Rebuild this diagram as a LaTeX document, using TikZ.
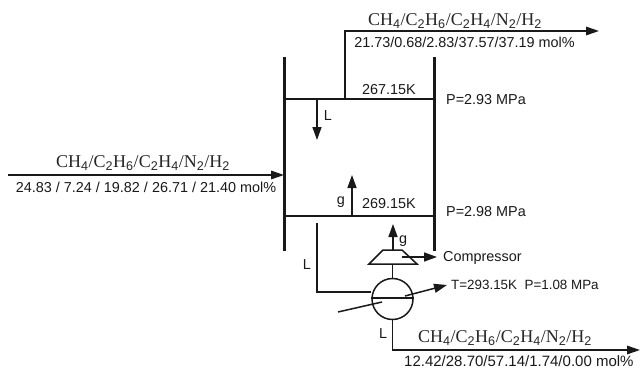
\documentclass[tikz,border=0pt]{standalone}
\usepackage{fontspec}
\setmainfont{Liberation Sans}
\newfontfamily\serifff{Liberation Serif}
\usetikzlibrary{arrows.meta}
\newcommand{\formula}{{\serifff\fontsize{18}{20}\selectfont CH$_{\mathrm{4}}$/C$_{\mathrm{2}}$H$_{\mathrm{6}}$/C$_{\mathrm{2}}$H$_{\mathrm{4}}$/N$_{\mathrm{2}}$/H$_{\mathrm{2}}$}}
\tikzset{
  lbl/.style={inner sep=0pt,font=\fontsize{14.4}{16}\selectfont,text=black!90},
  frm/.style={inner sep=0pt,text=black!85},
  wall/.style={line width=3pt,black!90},
  pipe/.style={line width=1.5pt,black!90},
  flow/.style={pipe,-{Triangle[length=13pt,width=9pt]}},
  flowbig/.style={pipe,-{Triangle[length=13pt,width=8.5pt]}}
}
\begin{document}
\begin{tikzpicture}[x=1pt,y=-1pt]
\useasboundingbox (0,0) rectangle (640,369);
% column
\coordinate (lt) at (284,57); \coordinate (lb) at (284,251);
\coordinate (rt) at (434,57); \coordinate (rb) at (434,251);
\draw[wall] (lt) -- (lb);
\draw[wall] (rt) -- (rb);
\coordinate (t1) at (284,99); \coordinate (t2) at (434,99);
\coordinate (b1) at (284,216); \coordinate (b2) at (434,216);
\draw[pipe] (t1) -- (t2);
\draw[pipe] (b1) -- (b2);
% streams
\coordinate (topo) at (345,99); \coordinate (topc) at (345,31); \coordinate (tope) at (599,31);
\draw[flowbig] (topo) -- (topc) -- (tope);
\coordinate (l1) at (317,99); \coordinate (l2) at (317,140);
\draw[flow] (l1) -- (l2);
\coordinate (g1) at (352,216); \coordinate (g2) at (352,175);
\draw[flow] (g1) -- (g2);
\coordinate (fs) at (8,175); \coordinate (fe) at (284,175);
\draw[flowbig] (fs) -- (fe);
% reboiler
\node[circle,draw=black!90,line width=1.5pt,minimum size=41pt,inner sep=0pt] (reb) at (392.5,299) {};
\draw[pipe] (reb.west |- 0,298) -- (reb.east |- 0,298);
\coordinate (sd) at (317,223);
\coordinate (sc) at (317,292);
\draw[pipe] (sd) -- (sc) -- (sc -| reb.west);
\coordinate (hs) at (338,312); \coordinate (hm) at (382,302);
\coordinate (hn) at (405,296); \coordinate (he) at (447,285);
\draw[pipe] (hs) -- (hm);
\draw[flow] (hn) -- (he);
% compressor
\coordinate (c1) at (369,264); \coordinate (c2) at (417,264);
\coordinate (c3) at (402,250); \coordinate (c4) at (383,250);
\draw[pipe] (c1) -- (c2) -- (c3) -- (c4) -- cycle;
\draw[pipe] (reb.north) -- (reb.north |- c1);
\coordinate (cu) at (393,224); \coordinate (cb) at (393,250);
\draw[flow] (cb) -- (cu);
\coordinate (ca) at (402,257); \coordinate (ce) at (437,257);
\draw[flow] (ca) -- (ce);
% bottom product
\coordinate (bc) at (reb.south |- 0,350); \coordinate (be) at (640,350);
\draw[flowbig] (reb.south) -- (bc) -- (be);
% labels
\node[frm] (ft) at (455,21) {\formula};
\node[lbl] (fn) at (464.5,42) {21.73/0.68/2.83/37.57/37.19 mol\%};
\node[lbl] (t267) at (389,90) {267.15K};
\node[lbl,anchor=west] (p1) at (446,100) {P=2.93 MPa};
\node[lbl] (lL) at (328,116) {L};
\node[frm] (ffe) at (143,163) {\formula};
\node[lbl] (ffn) at (146,187) {24.83 / 7.24 / 19.82 / 26.71 / 21.40 mol\%};
\node[lbl] (gl) at (341,202) {g};
\node[lbl] (t269) at (389,204) {269.15K};
\node[lbl,anchor=west] (p2) at (446,212) {P=2.98 MPa};
\node[lbl] (g3) at (403,241) {g};
\node[lbl,anchor=west] (cmp) at (443,258) {Compressor};
\node[lbl,anchor=west,font=\fontsize{13.4}{15}\selectfont] (tp) at (451,285) {T=293.15K\ \ P=1.08 MPa};
\node[lbl] (lb1) at (307,265) {L};
\node[lbl] (lb2) at (383,334) {L};
\node[frm] (bf) at (505,338) {\formula};
\node[lbl,anchor=west,font=\fontsize{15}{16}\selectfont] (bn) at (404,361) {12.42/28.70/57.14/1.74/0.00 mol\%};
\end{tikzpicture}
\end{document}
